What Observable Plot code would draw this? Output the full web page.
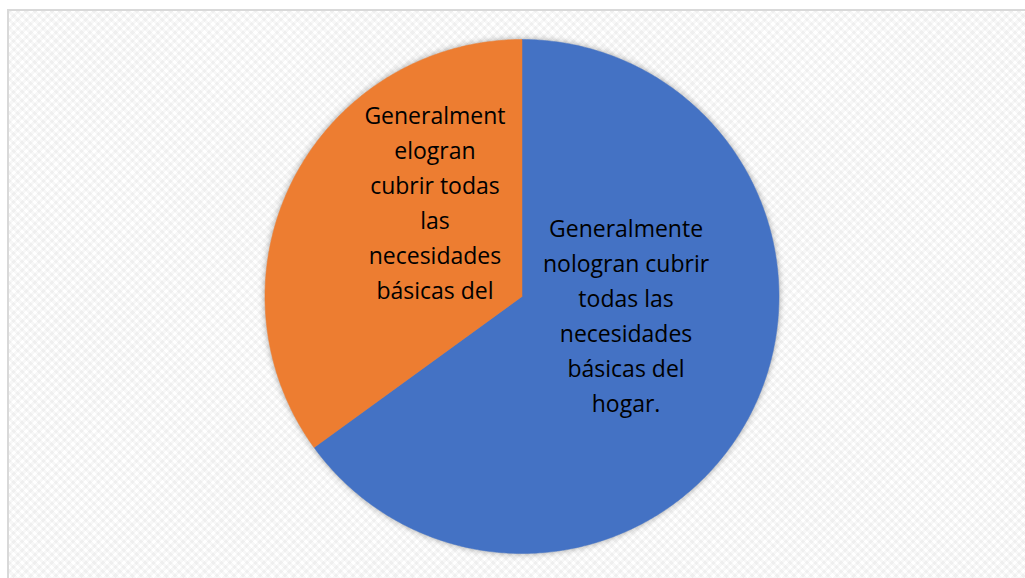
<!DOCTYPE html>
<html>
<head>
<meta charset="utf-8">
<script src="https://cdn.jsdelivr.net/npm/d3@7"></script>
<script src="https://cdn.jsdelivr.net/npm/@observablehq/plot@0.6"></script>
<style>
  html, body { margin: 0; padding: 0; background: #ffffff; overflow: hidden; }
  #frame {
    position: absolute; left: 7px; top: 9px; width: 1040px; height: 600px;
    box-sizing: border-box; border: 2px solid #d9d9d9;
    background-color: #ffffff;
    background-image:
      repeating-linear-gradient(45deg, rgba(0,0,0,0.03) 0 3px, transparent 3px 6px),
      repeating-linear-gradient(-45deg, rgba(0,0,0,0.03) 0 3px, transparent 3px 6px);
  }
  #chart { position: absolute; left: 0; top: 0; }
</style>
</head>
<body>
<div id="frame"></div>
<div id="chart"></div>
<script>
// ---- data ----
const categories = [
  "Generalmente nologran cubrir todas las necesidades básicas del hogar.",
  "Generalmente logran cubrir todas las necesidades básicas del hogar."
];
const values = [65, 35];
const labelLines = [
  "Generalmente\nnologran cubrir\ntodas las\nnecesidades\nbásicas del\nhogar.",
  "Generalment\nelogran\ncubrir todas\nlas\nnecesidades\nbásicas del"
];
const colors = ["#4472C4", "#ED7D31"];

// ---- build pie geometry from values ----
const arcs = d3.pie().sort(null).startAngle(0).endAngle(2 * Math.PI)(values);
const slicePoints = [];
arcs.forEach((a, i) => {
  const name = categories[i];
  slicePoints.push({name, x: 0, y: 0});
  const n = Math.max(8, Math.ceil((a.endAngle - a.startAngle) / (Math.PI / 360)));
  for (let k = 0; k <= n; ++k) {
    const t = a.startAngle + (a.endAngle - a.startAngle) * k / n;
    slicePoints.push({name, x: Math.sin(t), y: Math.cos(t)});
  }
  slicePoints.push({name, x: 0, y: 0});
});
const labelRadius = 0.45;
const labelData = arcs.map((a, i) => {
  const m = (a.startAngle + a.endAngle) / 2;
  return {name: categories[i], text: labelLines[i], x: labelRadius * Math.sin(m), y: labelRadius * Math.cos(m)};
});
const nudges = [{dx: 1, dy: -36}, {dx: 16, dy: -43.5}];

const fontSize = 23;
const textMarks = labelData.map((d, i) =>
  Plot.text([d], {
    x: "x", y: "y", text: "text",
    dx: nudges[i].dx, dy: nudges[i].dy,
    fill: "#000000", fontSize, lineAnchor: "middle", textAnchor: "middle",
    lineHeight: 35 / fontSize
  })
);

const chart = Plot.plot({
  width: 1025,
  height: 578,
  margin: 0,
  x: {domain: [-1, 1], range: [264.5, 778.5], axis: null},
  y: {domain: [-1, 1], range: [553, 39], axis: null},
  color: {domain: categories, range: colors},
  style: {background: "transparent", fontFamily: "'Open Sans', sans-serif", overflow: "visible"},
  marks: [
    Plot.line(slicePoints, {x: "x", y: "y", z: "name", fill: "name", stroke: "name", strokeWidth: 0.5, curve: "linear"}),
    ...textMarks
  ]
});
const lineGroup = chart.querySelector('g[aria-label="line"]');
if (lineGroup) lineGroup.style.filter = "drop-shadow(0px 0px 3px rgba(0,0,0,0.35))";
document.getElementById("chart").appendChild(chart);
</script>
</body>
</html>
